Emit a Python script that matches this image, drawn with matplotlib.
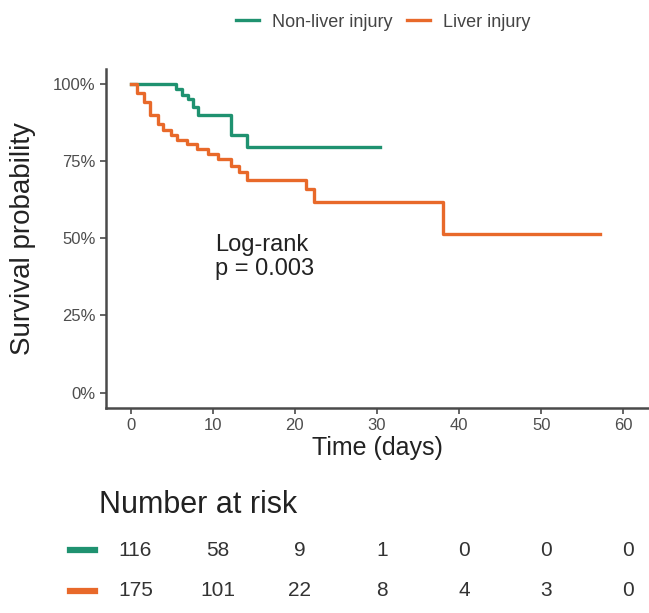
import matplotlib
matplotlib.use("Agg")
import matplotlib.pyplot as plt
import matplotlib.transforms as mtransforms
from matplotlib.ticker import PercentFormatter

plt.rcParams['font.family'] = ['Liberation Sans', 'DejaVu Sans']

# Kaplan-Meier curves
groups = ["Non-liver injury", "Liver injury"]
colors = ["#1f9270", "#e8692a"]

t_nonliver = [0, 5.5, 6.2, 7.0, 7.6, 8.2, 12.2, 14.2, 30.4]
s_nonliver = [1.0, 0.985, 0.965, 0.95, 0.925, 0.90, 0.836, 0.797, 0.797]

t_liver = [0, 0.8, 1.6, 2.4, 3.3, 4.0, 4.9, 5.7, 6.9, 8.1, 9.4, 10.6, 12.2,
           13.2, 14.2, 21.3, 22.3, 38.1, 57.2]
s_liver = [1.0, 0.97, 0.94, 0.90, 0.87, 0.852, 0.836, 0.82, 0.804, 0.788,
           0.772, 0.756, 0.733, 0.715, 0.69, 0.66, 0.617, 0.514, 0.514]

# number at risk table
risk_times = [0, 10, 20, 30, 40, 50, 60]
risk_nonliver = [116, 58, 9, 1, 0, 0, 0]
risk_liver = [175, 101, 22, 8, 4, 3, 0]

pval_text = "Log-rank\np = 0.003"

fig = plt.figure(figsize=(6.49, 6.13), dpi=100)
ax = fig.add_axes([0.1633, 0.3344, 0.835, 0.5538])

ax.step(t_nonliver, s_nonliver, where='post', color=colors[0], lw=2.4,
        label=groups[0])
ax.step(t_liver, s_liver, where='post', color=colors[1], lw=2.4,
        label=groups[1])

ax.set_xlim(-3, 63)
ax.set_ylim(-0.05, 1.05)
ax.set_xticks(risk_times)
ax.set_yticks([0, 0.25, 0.5, 0.75, 1.0])
ax.yaxis.set_major_formatter(PercentFormatter(1.0, decimals=0))

for side in ['top', 'right']:
    ax.spines[side].set_visible(False)
for side in ['left', 'bottom']:
    ax.spines[side].set_color('#4a4a4a')
    ax.spines[side].set_linewidth(1.8)
ax.tick_params(colors='#4a4a4a', labelcolor='#4d4d4d', labelsize=12,
               length=4, width=1.2)

ax.set_xlabel("Time (days)", fontsize=18, color='#222222', labelpad=2)
ax.set_ylabel("Survival probability", fontsize=20, color='#222222', labelpad=12)

ax.text(10.3, 0.44, pval_text, fontsize=17, color='#222222',
        ha='left', va='center', linespacing=1.15)

fig.legend(loc='center', bbox_to_anchor=(0.59, 0.964), ncol=2,
           frameon=False, fontsize=13, handlelength=1.3, columnspacing=0.8,
           handletextpad=0.7, labelcolor='#444444')

# risk table below, x in data units of the main axes
trans = mtransforms.blended_transform_factory(ax.transData, fig.transFigure)
fig.text(0.152, 1 - 505 / 613, "Number at risk", fontsize=22,
         color='#222222', ha='left', va='center')

row_y = [1 - 550 / 613, 1 - 591 / 613]
for y, counts, c in zip(row_y, [risk_nonliver, risk_liver], colors):
    fig.add_artist(plt.Line2D([0.108, 0.146], [y, y], color=c, lw=4.5,
                              transform=fig.transFigure))
    for tx, n in zip(risk_times, counts):
        fig.text(tx + 0.6, y, str(n), transform=trans, fontsize=15,
                 color='#333333', ha='center', va='center')

fig.savefig("out.png", dpi=100)
